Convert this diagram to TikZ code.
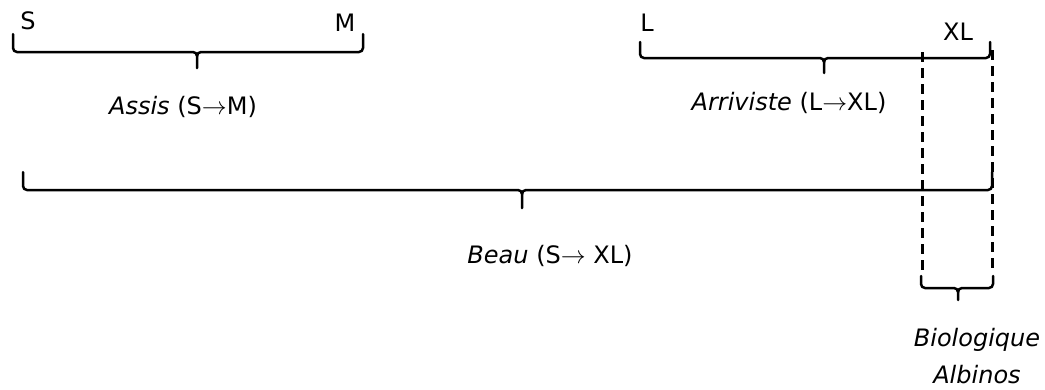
\documentclass[tikz,border=0pt]{standalone}
\usepackage{fontspec}
\setmainfont{DejaVu Sans}
\begin{document}
\begin{tikzpicture}[x=1pt,y=-1pt,
  bracestyle/.style={line width=2.5pt, line join=round, line cap=round},
  dashline/.style={line width=3pt, dash pattern=on 10pt off 6pt},
  lbl/.style={inner sep=0pt, anchor=base, font=\fontsize{24}{28}\selectfont}]
\useasboundingbox (0,0) rectangle (1045,389);
\newcommand\wbrace[6]{%
  \draw[bracestyle] (#1,#3) -- (#1,#4-4) to[out=-90,in=180] (#1+4,#4) -- (#5-4,#4) to[out=0,in=90] (#5,#4+4) -- (#5,#6);
  \draw[bracestyle] (#2,#3) -- (#2,#4-4) to[out=-90,in=0] (#2-4,#4) -- (#5+4,#4) to[out=180,in=90] (#5,#4+4);
}
% top labels
\node[lbl] (s) at (28,29) {S};
\node[lbl] (m) at (345,31) {M};
\node[lbl] (l) at (647,31) {L};
\node[lbl] (xl) at (958,40) {XL};
% braces
\wbrace{13}{363}{34}{52}{197}{68}
\wbrace{640}{990}{42}{58}{824}{73}
\wbrace{23}{992}{172}{190}{522}{208}
% dashed guides
\draw[dashline] (922,52) -- (922,272);
\draw[dashline] (992,50) -- (992,272);
\wbrace{921}{993}{276}{288}{958}{300}
% labels
\node[lbl] (assis) at (183,114) {\textit{Assis} (S$\rightarrow$M)};
\node[lbl] (arr) at (789,110) {\textit{Arriviste} (L$\rightarrow$XL)};
\node[lbl] (beau) at (550,263) {\textit{Beau} (S$\rightarrow$ XL)};
\node[lbl] (bio) at (977,346) {\textit{Biologique}};
\node[lbl] (alb) at (977,383) {\textit{Albinos}};
\end{tikzpicture}
\end{document}
